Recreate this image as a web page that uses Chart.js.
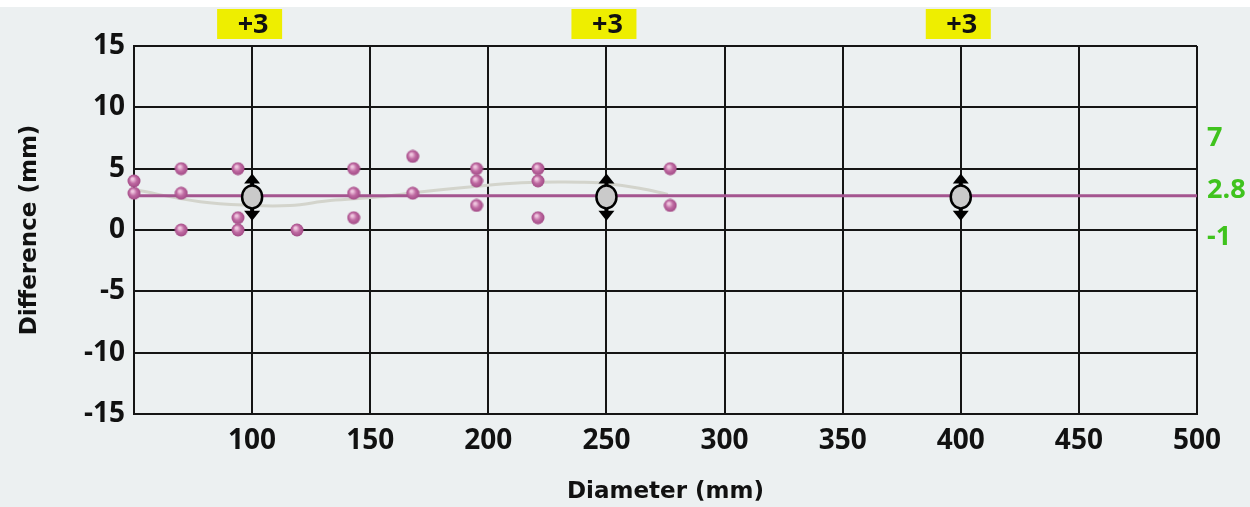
<!DOCTYPE html>
<html>
<head>
<meta charset="utf-8">
<script src="https://cdn.jsdelivr.net/npm/chart.js@4.4.1/dist/chart.umd.min.js"></script>
<style>
  html, body { margin: 0; padding: 0; background: #fff; }
</style>
</head>
<body>
<canvas id="chart" width="1250" height="507"></canvas>
<script>
// individual measurements (diameter mm, difference mm)
const pointsX = [50, 50, 70, 70, 70, 94, 94, 94, 119, 143, 143, 143, 168, 168, 195, 195, 195, 221, 221, 221, 277, 277];
const pointsY = [4, 3, 5, 3, 0, 5, 1, 0, 0, 5, 3, 1, 6, 3, 5, 4, 2, 5, 4, 1, 5, 2];

// smoothed trend (grey curve)
const curveX = [50, 78, 100, 116, 133, 154, 171, 192, 214, 239, 247, 264, 276];
const curveY = [3.3, 2.3, 2.0, 2.0, 2.4, 2.7, 3.1, 3.5, 3.85, 3.9, 3.85, 3.4, 2.9];

// mean difference line
const meanX = [50, 500];
const meanValue = 2.8;

// summary markers at the nominal diameters
const markerX = [100, 250, 400];
const markerMean = [2.7, 2.7, 2.7];
const markerUpper = [4.6, 4.6, 4.6];
const markerLower = [0.75, 0.75, 0.75];
const markerCounts = ['+3', '+3', '+3'];

// labels on the right side
const rightLabels = ['7', '2.8', '-1'];
const rightLabelY = [7.5, 3.2, -0.6];

const xTicks = { min: 50, max: 500, step: 50 };
const yTicks = { min: -15, max: 15, step: 5 };

const tickFont = { family: 'Open Sans', size: 28, weight: 'bold' };
const titleFont = { family: 'DejaVu Sans', size: 23, weight: 'bold' };

// shaded pink dot
const dot = document.createElement('canvas');
dot.width = 14; dot.height = 14;
(function () {
    const g = dot.getContext('2d');
    const grad = g.createRadialGradient(5.5, 5, 1, 7, 7, 7);
    grad.addColorStop(0, '#efc6df');
    grad.addColorStop(0.45, '#bf6aa2');
    grad.addColorStop(1, '#9e4682');
    g.fillStyle = grad;
    g.beginPath();
    g.arc(7, 7, 6.5, 0, Math.PI * 2);
    g.fill();
})();

const background = {
    id: 'background',
    beforeDraw(chart) {
        const ctx = chart.ctx;
        ctx.save();
        ctx.fillStyle = '#ecf0f1';
        ctx.fillRect(0, 0, chart.width, chart.height);
        ctx.fillStyle = '#ffffff';
        ctx.fillRect(0, 0, chart.width, 7);
        ctx.restore();
    }
};

const markers = {
    id: 'markers',
    afterDatasetsDraw(chart) {
        const ctx = chart.ctx;
        const xs = chart.scales.x, ys = chart.scales.y;
        ctx.save();
        markerX.forEach((v, i) => {
            const px = xs.getPixelForValue(v);
            const pm = ys.getPixelForValue(markerMean[i]);
            const pu = ys.getPixelForValue(markerUpper[i]);
            const pl = ys.getPixelForValue(markerLower[i]);
            ctx.strokeStyle = '#000';
            ctx.fillStyle = '#000';
            ctx.lineWidth = 4;
            ctx.beginPath();
            ctx.moveTo(px, pu + 4);
            ctx.lineTo(px, pl - 4);
            ctx.stroke();
            ctx.beginPath();
            ctx.moveTo(px, pu);
            ctx.lineTo(px - 8, pu + 10);
            ctx.lineTo(px + 8, pu + 10);
            ctx.closePath();
            ctx.fill();
            ctx.beginPath();
            ctx.moveTo(px, pl);
            ctx.lineTo(px - 8, pl - 10);
            ctx.lineTo(px + 8, pl - 10);
            ctx.closePath();
            ctx.fill();
            ctx.beginPath();
            ctx.ellipse(px, pm, 10, 11.5, 0, 0, Math.PI * 2);
            ctx.fillStyle = '#cacaca';
            ctx.fill();
            ctx.lineWidth = 2.5;
            ctx.stroke();
        });
        ctx.restore();
    }
};

const annotations = {
    id: 'annotations',
    afterDraw(chart) {
        const ctx = chart.ctx;
        const xs = chart.scales.x, ys = chart.scales.y;
        ctx.save();
        // counts on top in yellow boxes
        ctx.font = 'bold 27px "Open Sans"';
        ctx.textAlign = 'center';
        ctx.textBaseline = 'middle';
        markerX.forEach((v, i) => {
            const px = xs.getPixelForValue(v);
            ctx.fillStyle = '#eeee00';
            ctx.fillRect(px - 35, 9, 65, 30);
            ctx.fillStyle = '#111';
            ctx.fillText(markerCounts[i], px + 1, 25);
        });
        // green labels on the right
        ctx.font = 'bold 27px "Open Sans"';
        ctx.textAlign = 'left';
        ctx.fillStyle = '#3fc31d';
        rightLabels.forEach((t, i) => {
            ctx.fillText(t, chart.chartArea.right + 10, ys.getPixelForValue(rightLabelY[i]));
        });
        ctx.restore();
    }
};

new Chart(document.getElementById('chart'), {
    type: 'scatter',
    data: {
        datasets: [
            {
                type: 'line',
                data: curveX.map((x, i) => ({ x: x, y: curveY[i] })),
                borderColor: '#d3d4cc',
                borderWidth: 3,
                pointRadius: 0,
                tension: 0.4,
                order: 3
            },
            {
                type: 'line',
                data: meanX.map(x => ({ x: x, y: meanValue })),
                borderColor: '#a4558f',
                borderWidth: 3,
                pointRadius: 0,
                order: 2
            },
            {
                data: pointsX.map((x, i) => ({ x: x, y: pointsY[i] })),
                pointStyle: dot,
                pointRadius: 7,
                clip: false,
                order: 1
            }
        ]
    },
    options: {
        responsive: false,
        animation: false,
        devicePixelRatio: 1,
        layout: { padding: { left: 0, right: 53, top: 46, bottom: 0 } },
        plugins: {
            legend: { display: false },
            tooltip: { enabled: false }
        },
        scales: {
            x: {
                type: 'linear',
                min: xTicks.min,
                max: xTicks.max,
                afterFit: s => { s.height = 93; },
                ticks: {
                    stepSize: xTicks.step,
                    font: tickFont,
                    color: '#111',
                    padding: 10,
                    maxRotation: 0,
                    callback: v => (v === xTicks.min ? '' : v)
                },
                grid: { color: '#151515', lineWidth: 2, drawTicks: false },
                border: { color: '#151515', width: 2 },
                title: {
                    display: true,
                    text: 'Diameter (mm)',
                    font: titleFont,
                    color: '#111',
                    padding: { top: 0, bottom: 1 }
                }
            },
            y: {
                min: yTicks.min,
                max: yTicks.max,
                afterFit: s => { s.width = 134; },
                ticks: {
                    stepSize: yTicks.step,
                    font: tickFont,
                    color: '#111',
                    padding: 9
                },
                grid: { color: '#151515', lineWidth: 2, drawTicks: false },
                border: { color: '#151515', width: 2 },
                title: {
                    display: true,
                    text: 'Difference (mm)',
                    font: titleFont,
                    color: '#111',
                    padding: { top: 16, bottom: 0 }
                }
            }
        }
    },
    plugins: [background, markers, annotations]
});
</script>
</body>
</html>
